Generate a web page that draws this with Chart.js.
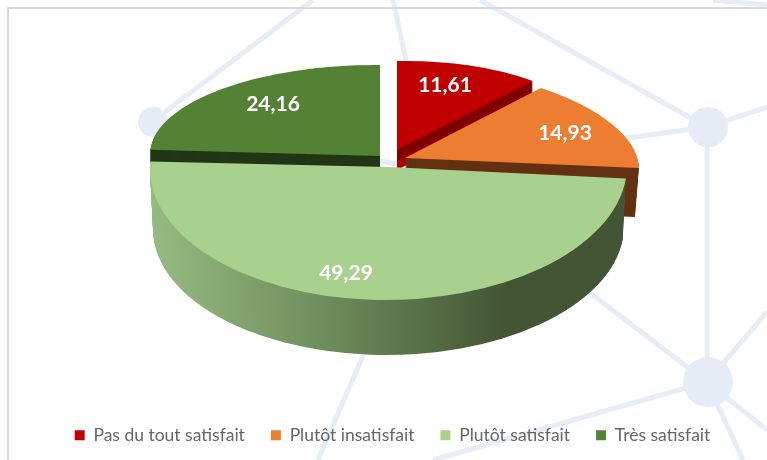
<!DOCTYPE html>
<html><head><meta charset="utf-8">
<style>html,body{margin:0;padding:0;background:#fff}canvas{display:block}</style>
<script src="https://cdn.jsdelivr.net/npm/chart.js@4/dist/chart.umd.min.js"></script>
</head><body>
<div style="width:767px;height:460px"><canvas id="c" width="767" height="460"></canvas></div>
<script>
const categories = ['Pas du tout satisfait','Plutôt insatisfait','Plutôt satisfait','Très satisfait'];
const values = [11.61,14.93,49.29,24.16];
const colors = ['#C00000','#ED7D31','#A9D18E','#548235'];

// Perspective of each slice (painted back to front), and decorative background.
const paintOrder = [3,0,1,2];
const views = [
  {o:[397,150],A:[204,-4],B:[0,89],d:[0,20],sa:1,sb:1,layers:[[20,11,'#B00000'],[11,0,'#7F0000']],label:[445,85]},
  {o:[405,158],A:[232.6,0.9],B:[25.6,94.7],d:[0,49],sa:.983,sb:.983,layers:[[49,0,'#633112']],label:[565,133]},
  {o:[388.5,167],A:[238.5,-1.5],B:[0,133],d:[0,61],sa:.987,sb:.955,layers:[[61,0,'gradient']],label:[346,273]},
  {o:[380,156],A:[230,1.4],B:[0,91],d:[0,18],sa:1,sb:1,layers:[[18,0,'#223615']],label:[273,104]}
];
const gradientStops = [[0,'#97BA82'],[.35,'#6F8F5E'],[.75,'#435534'],[1,'#435534']];
const netLines = [[153,121,313,0],[393,0,430,170],[480,0,707,127],[713,0,767,5],[707,127,620,139],[707,127,767,107],
  [707,127,707,382],[707,382,433,460],[707,382,560,270],[707,382,767,312],[707,382,767,430],[707,382,743,460],
  [372,335,318,460],[153,121,420,168]];
const netNodes = [[153,122,15],[708,127,20],[708,382,25]];

function paintSlice(ctx, el, i, chart){
  const v = views[i], R = el.outerRadius, cx = el.x, cy = el.y;
  const variant = (color) => Object.create(el,{options:{value:{offset:0,spacing:0,borderWidth:0,borderColor:'rgba(0,0,0,0)',
    backgroundColor:color,borderAlign:'center',borderRadius:0,circular:true,borderDash:[],borderDashOffset:0,borderJoinStyle:'miter'}}});
  const at = (off,sa,sb,color) => {
    ctx.save();
    const ax=v.A[0]*sa/R, ay=v.A[1]*sa/R, bx=v.B[0]*sb/R, by=v.B[1]*sb/R;
    const ox=v.o[0]+off[0], oy=v.o[1]+off[1];
    ctx.transform(ax,ay,bx,by,ox-(ax*cx+bx*cy),oy-(ay*cx+by*cy));
    let fill=color;
    if(color==='gradient'){
      fill=ctx.createLinearGradient(cx-R,cy,cx+R,cy);
      gradientStops.forEach(s=>fill.addColorStop(s[0],s[1]));
    }
    variant(fill).draw(ctx);
    ctx.restore();
  };
  const total = v.d[1];
  v.layers.forEach(([from,to,color])=>{
    for(let y=from;y>to;y-=1){
      const t=y/total;
      at([v.d[0]*t,y],1-(1-v.sa)*t,1-(1-v.sb)*t,color);
    }
  });
  at([0,0],1,1,colors[i]);
}

const pie3d = {
  id:'pie3d',
  beforeDraw(chart){
    const ctx=chart.ctx;
    ctx.save();
    ctx.fillStyle='#fff';ctx.fillRect(0,0,767,460);
    ctx.strokeStyle='#E6EDF6';ctx.lineWidth=5;ctx.lineCap='butt';
    netLines.forEach(l=>{ctx.beginPath();ctx.moveTo(l[0],l[1]);ctx.lineTo(l[2],l[3]);ctx.stroke();});
    ctx.fillStyle='#E5ECF6';
    netNodes.forEach(n=>{ctx.beginPath();ctx.arc(n[0],n[1],n[2],0,Math.PI*2);ctx.fill();});
    ctx.strokeStyle='#D9D9D9';ctx.lineWidth=2;
    ctx.beginPath();ctx.moveTo(8,460);ctx.lineTo(8,8);ctx.lineTo(767,8);ctx.stroke();
    ctx.restore();
  },
  beforeDatasetDraw(chart,args){
    const ctx=chart.ctx, arcs=chart.getDatasetMeta(args.index).data;
    paintOrder.forEach(i=>paintSlice(ctx,arcs[i],i,chart));
    ctx.save();
    ctx.fillStyle='#fff';ctx.font='700 21px Lato';ctx.textAlign='center';ctx.textBaseline='middle';
    values.forEach((val,i)=>ctx.fillText(val.toFixed(2).replace('.',','),views[i].label[0],views[i].label[1]));
    ctx.restore();
    return false;
  }
};

new Chart(document.getElementById('c'),{
  type:'pie',
  data:{labels:categories,datasets:[{data:values,backgroundColor:colors,borderWidth:0}]},
  options:{
    responsive:false,animation:false,
    layout:{padding:{left:18,bottom:6}},
    plugins:{
      tooltip:{enabled:false},
      legend:{position:'bottom',labels:{boxWidth:10,boxHeight:10,padding:26,color:'#666666',font:{family:'Lato',size:17.5}}}
    }
  },
  plugins:[pie3d]
});
</script>
</body></html>
